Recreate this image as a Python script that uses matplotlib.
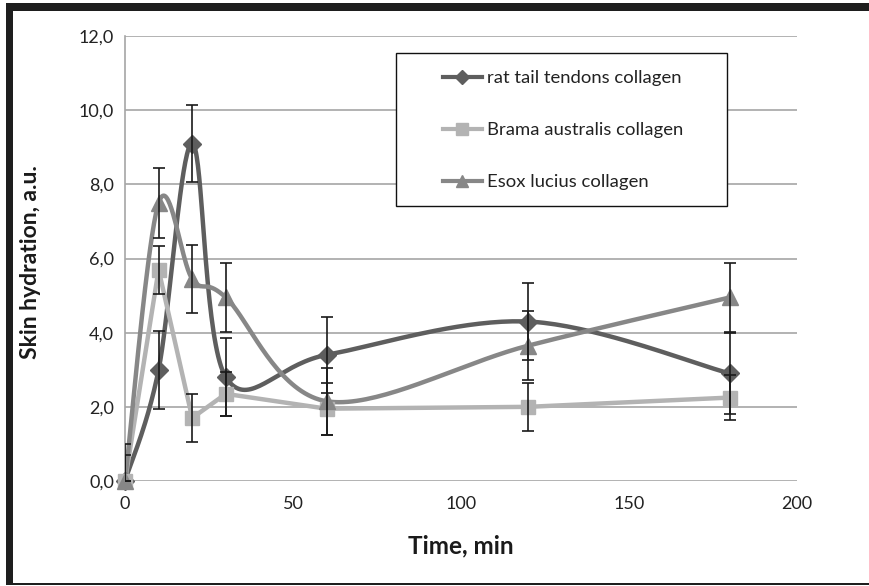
import numpy as np
import matplotlib
matplotlib.use("Agg")
import matplotlib.pyplot as plt
from matplotlib.lines import Line2D
from matplotlib.patches import Rectangle

plt.rcParams['font.family'] = ['Lato', 'DejaVu Sans']

# ---- data ----
time_min = [0, 10, 20, 30, 60, 120, 180]
rat = [0.0, 3.0, 9.1, 2.8, 3.4, 4.3, 2.9]
rat_err = [1.0, 1.05, 1.05, 1.05, 1.03, 1.05, 1.1]
brama = [0.0, 5.7, 1.7, 2.35, 1.95, 2.0, 2.25]
brama_err = [0.7, 0.65, 0.65, 0.6, 0.7, 0.65, 0.6]
esox = [0.0, 7.5, 5.45, 4.95, 2.15, 3.65, 4.95]
esox_err = [0.0, 0.95, 0.92, 0.93, 0.9, 0.93, 0.93]
labels = ['rat tail tendons collagen', 'Brama australis collagen', 'Esox lucius collagen']
yticks = [0, 2, 4, 6, 8, 10, 12]
xticks = [0, 50, 100, 150, 200]

W, H = 869, 586
fig = plt.figure(figsize=(W/100, H/100), dpi=100)
ax = fig.add_axes([125/W, 105/H, (797-125)/W, (481-36)/H])

# scale factors (px per data unit) for Excel-like smoothing in screen space
SX, SY = 3.36, 37.08

def smooth(x, y, n=40):
    P = np.column_stack([np.asarray(x, float) * SX, np.asarray(y, float) * SY])
    out = []
    for i in range(len(P) - 1):
        p0 = P[i - 1] if i > 0 else P[i]
        p1, p2 = P[i], P[i + 1]
        p3 = P[i + 2] if i + 2 < len(P) else P[i + 1]
        c1 = p1 + (p2 - p0) / 6
        c2 = p2 - (p3 - p1) / 6
        t = np.linspace(0, 1, n)[:, None]
        B = (1 - t) ** 3 * p1 + 3 * (1 - t) ** 2 * t * c1 + 3 * (1 - t) * t ** 2 * c2 + t ** 3 * p2
        out.append(B if i == 0 else B[1:])
    B = np.vstack(out)
    return B[:, 0] / SX, B[:, 1] / SY

c_rat, c_brama, c_esox = '#5e5e5e', '#b3b3b3', '#878787'
lw = 3.2

xs, ys = smooth(time_min, rat)
ax.plot(xs, ys, color=c_rat, lw=lw, zorder=3)
ax.plot(time_min, rat, ls='none', marker='D', ms=9, color=c_rat, zorder=4, clip_on=False)

ax.plot(time_min, brama, color=c_brama, lw=lw, zorder=3)
ax.plot(time_min, brama, ls='none', marker='s', ms=10, color=c_brama, zorder=4, clip_on=False)

xs, ys = smooth(time_min, esox)
ax.plot(xs, ys, color=c_esox, lw=lw, zorder=3)
ax.plot(time_min, esox, ls='none', marker='^', ms=11, color=c_esox, zorder=4, clip_on=False)

for vals, err in [(rat, rat_err), (brama, brama_err), (esox, esox_err)]:
    ax.errorbar(time_min, vals, yerr=err, fmt='none', ecolor='#1a1a1a',
                elinewidth=1.2, capsize=4, capthick=1.2, zorder=5)

ax.set_xlim(0, 200)
ax.set_ylim(0, 12)
ax.set_yticks(yticks)
ax.set_yticklabels([f"{v:.1f}".replace('.', ',') for v in yticks])
ax.set_xticks(xticks)
ax.set_xticklabels([str(v) for v in xticks])
ax.tick_params(length=0, labelsize=13, colors='#222222', pad=8)
ax.tick_params(axis='x', pad=11)
ax.yaxis.grid(True, color='#a6a6a6', lw=1.2)
ax.set_axisbelow(True)
for s in ['top', 'right', 'bottom']:
    ax.spines[s].set_visible(False)
ax.spines['left'].set_color('#a6a6a6')
ax.spines['left'].set_linewidth(1.2)

fig.text(461/W, 1 - 546/H, 'Time, min', ha='center', va='center',
         fontsize=17.5, fontweight='bold', color='#1a1a1a')
fig.text(31/W, 1 - 262/H, 'Skin hydration, a.u.', ha='center', va='center',
         rotation=90, fontsize=16.5, fontweight='bold', color='#1a1a1a')

# legend frame drawn manually
fig.patches.append(Rectangle((396/W, 1 - 206/H), (727-396)/W, (206-53)/H, transform=fig.transFigure,
                             facecolor='white', edgecolor='#111111', lw=1.0, zorder=9))
handles = [Line2D([], [], color=c_rat, lw=3, marker='D', ms=7),
           Line2D([], [], color=c_brama, lw=3, marker='s', ms=8),
           Line2D([], [], color=c_esox, lw=3, marker='^', ms=8)]
leg = fig.legend(handles, labels, loc='upper left',
                 bbox_to_anchor=(443/W, 1 - 70/H), bbox_transform=fig.transFigure,
                 fontsize=13.3, frameon=False, labelspacing=1.96,
                 handlelength=2.1, handletextpad=0.27, borderpad=0,
                 borderaxespad=0)
for t in leg.get_texts():
    t.set_color('#222222')
leg.set_zorder(10)

# outer black frame
fig.patches.append(Rectangle((6/W, 1 - 11/H), 1 - 6/W, 8/H, transform=fig.transFigure,
                             facecolor='#1e1e1e', edgecolor='none'))
fig.patches.append(Rectangle((6/W, 1 - 585/H), 7/W, (585 - 3)/H, transform=fig.transFigure,
                             facecolor='#1e1e1e', edgecolor='none'))
fig.patches.append(Rectangle((6/W, 1 - 585/H), 1 - 6/W, 2/H, transform=fig.transFigure,
                             facecolor='#1e1e1e', edgecolor='none'))

fig.savefig('out.png', dpi=100)
